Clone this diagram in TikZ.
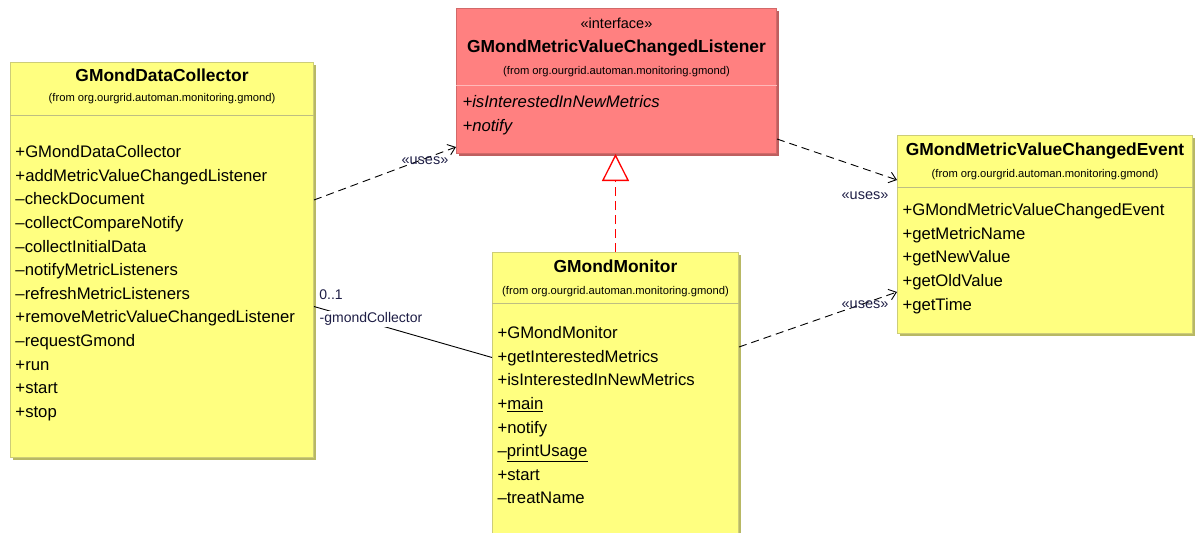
\documentclass[tikz,border=0pt]{standalone}
\usepackage{fontspec}
\setmainfont{Liberation Sans}
\usetikzlibrary{positioning, arrows.meta, shadows}

\definecolor{clsYellow}{RGB}{255,255,128}
\definecolor{clsYellowLine}{RGB}{205,205,120}
\definecolor{clsYellowShade}{RGB}{184,184,100}
\definecolor{clsYellowDiv}{RGB}{190,190,130}
\definecolor{ifcRed}{RGB}{255,128,128}
\definecolor{ifcRedLine}{RGB}{210,105,105}
\definecolor{ifcRedShade}{RGB}{190,95,95}
\definecolor{ifcRedDiv}{RGB}{255,185,185}
\definecolor{realRed}{RGB}{255,0,0}
\definecolor{lblBlue}{RGB}{30,30,70}

\begin{document}
\begin{tikzpicture}[
    x=1pt, y=-1pt,
    line width=1pt,
    %% ── box styles ───────────────────────────────────────────
    Cbox/.style  = {draw=clsYellowLine, fill=clsYellow, inner sep=0pt, anchor=north west,
                    drop shadow={shadow xshift=2pt, shadow yshift=-2pt, opacity=1,
                                 fill=clsYellowShade}},
    Ibox/.style  = {draw=ifcRedLine, fill=ifcRed, inner sep=0pt, anchor=north west,
                    drop shadow={shadow xshift=2pt, shadow yshift=-2pt, opacity=1,
                                 fill=ifcRedShade}},
    Ydiv/.style  = {draw=clsYellowDiv, line width=1pt},
    Rdiv/.style  = {draw=ifcRedDiv, line width=1pt},
    %% ── text styles ──────────────────────────────────────────
    Ttl/.style   = {font=\fontsize{17.4}{20}\selectfont\bfseries, inner sep=0pt, anchor=base},
    Ster/.style  = {font=\fontsize{14.5}{16}\selectfont, inner sep=0pt, anchor=base},
    From/.style  = {font=\fontsize{11.2}{13}\selectfont, inner sep=0pt, anchor=base},
    Mbr/.style   = {font=\fontsize{16.7}{23.6}\selectfont, align=left, inner sep=0pt,
                    anchor=north west},
    Use/.style   = {font=\fontsize{14.5}{16}\selectfont, text=lblBlue, inner sep=0pt},
    Role/.style  = {font=\fontsize{14}{16}\selectfont, text=lblBlue, fill=white,
                    inner sep=1pt},
    %% ── connector styles ─────────────────────────────────────
    Uses/.style  = {draw=black, line width=0.9pt, dash pattern=on 8pt off 5pt,
                    -{Straight Barb[length=7pt, width=11pt]}},
    Real/.style  = {draw=realRed, line width=1.3pt, dash pattern=on 9pt off 5pt,
                    -{Triangle[open, length=27pt, width=27pt, fill=white]}},
    Assoc/.style = {draw=black, line width=0.9pt}
]
\useasboundingbox (0,0) rectangle (1195,533);

%% ── GMondDataCollector ───────────────────────────────────────
\node[Cbox, minimum width=303pt, minimum height=395pt] (coll) at (10,62) {};
\node[Ttl]  (collT) at ([yshift=-19.5pt]coll.north) {GMondDataCollector};
\node[From] (collF) at ([yshift=-39.5pt]coll.north)
    {(from org.ourgrid.automan.monitoring.gmond)};
\draw[Ydiv] ([yshift=-53pt]coll.north west) -- ([yshift=-53pt]coll.north east);
\node[Mbr] (collM) at ([xshift=5pt, yshift=-83pt]coll.north west)
    {+GMondDataCollector\\
     +addMetricValueChangedListener\\
     –checkDocument\\
     –collectCompareNotify\\
     –collectInitialData\\
     –notifyMetricListeners\\
     –refreshMetricListeners\\
     +removeMetricValueChangedListener\\
     –requestGmond\\
     +run\\
     +start\\
     +stop};

%% ── GMondMetricValueChangedListener (interface) ──────────────
\node[Ibox, minimum width=320pt, minimum height=145pt] (iface) at (456,8) {};
\node[Ster] (ifaceS) at ([yshift=-20pt]iface.north) {«interface»};
\node[Ttl]  (ifaceT) at ([yshift=-44.5pt]iface.north) {GMondMetricValueChangedListener};
\node[From] (ifaceF) at ([yshift=-66.5pt]iface.north)
    {(from org.ourgrid.automan.monitoring.gmond)};
\draw[Rdiv] ([yshift=-77pt]iface.north west) -- ([yshift=-77pt]iface.north east);
\node[Mbr, font=\fontsize{16.7}{23.6}\selectfont\itshape] (ifaceM)
    at ([xshift=6pt, yshift=-87pt]iface.north west)
    {+isInterestedInNewMetrics\\
     +notify};

%% ── GMondMonitor ─────────────────────────────────────────────
\node[Cbox, minimum width=246pt, minimum height=300pt] (mon) at (492,252) {};
\node[Ttl]  (monT) at ([yshift=-20pt]mon.north) {GMondMonitor};
\node[From] (monF) at ([yshift=-42.5pt]mon.north)
    {(from org.ourgrid.automan.monitoring.gmond)};
\draw[Ydiv] ([yshift=-51pt]mon.north west) -- ([yshift=-51pt]mon.north east);
\node[Mbr] (monM) at ([xshift=5pt, yshift=-74pt]mon.north west)
    {+GMondMonitor\\
     +getInterestedMetrics\\
     +isInterestedInNewMetrics\\
     +\underline{main}\\
     +notify\\
     –\underline{printUsage}\\
     +start\\
     –treatName};

%% ── GMondMetricValueChangedEvent ─────────────────────────────
\node[Cbox, minimum width=295pt, minimum height=198pt] (event) at (897,135) {};
\node[Ttl]  (eventT) at ([yshift=-20pt]event.north) {GMondMetricValueChangedEvent};
\node[From] (eventF) at ([yshift=-42.5pt]event.north)
    {(from org.ourgrid.automan.monitoring.gmond)};
\draw[Ydiv] ([yshift=-52pt]event.north west) -- ([yshift=-52pt]event.north east);
\node[Mbr] (eventM) at ([xshift=5pt, yshift=-68pt]event.north west)
    {+GMondMetricValueChangedEvent\\
     +getMetricName\\
     +getNewValue\\
     +getOldValue\\
     +getTime};

%% ── Dependencies («uses») ────────────────────────────────────
\draw[Uses] ([yshift=60pt]coll.east) -- ([yshift=7pt]iface.south west);
\draw[Uses] ([yshift=15pt]iface.south east) -- ([yshift=-45pt]event.north west);
\draw[Uses] ([yshift=-95pt]mon.north east) -- ([yshift=-157pt]event.north west);
\node[Use] (use1) at (425,161) {«uses»};
\node[Use] (use2) at (865,196) {«uses»};
\node[Use] (use3) at (865,305) {«uses»};

%% ── Realization ──────────────────────────────────────────────
\draw[Real] (mon.north) -- (mon.north |- iface.south);

%% ── Association ──────────────────────────────────────────────
\draw[Assoc] ([yshift=-46.5pt]coll.east) -- ([yshift=45pt]mon.west);
\node[Role, fill=none] (mult) at (331,294.5) {0..1};
\node[Role] (role) at (371,319) {-gmondCollector};

\end{tikzpicture}
\end{document}
